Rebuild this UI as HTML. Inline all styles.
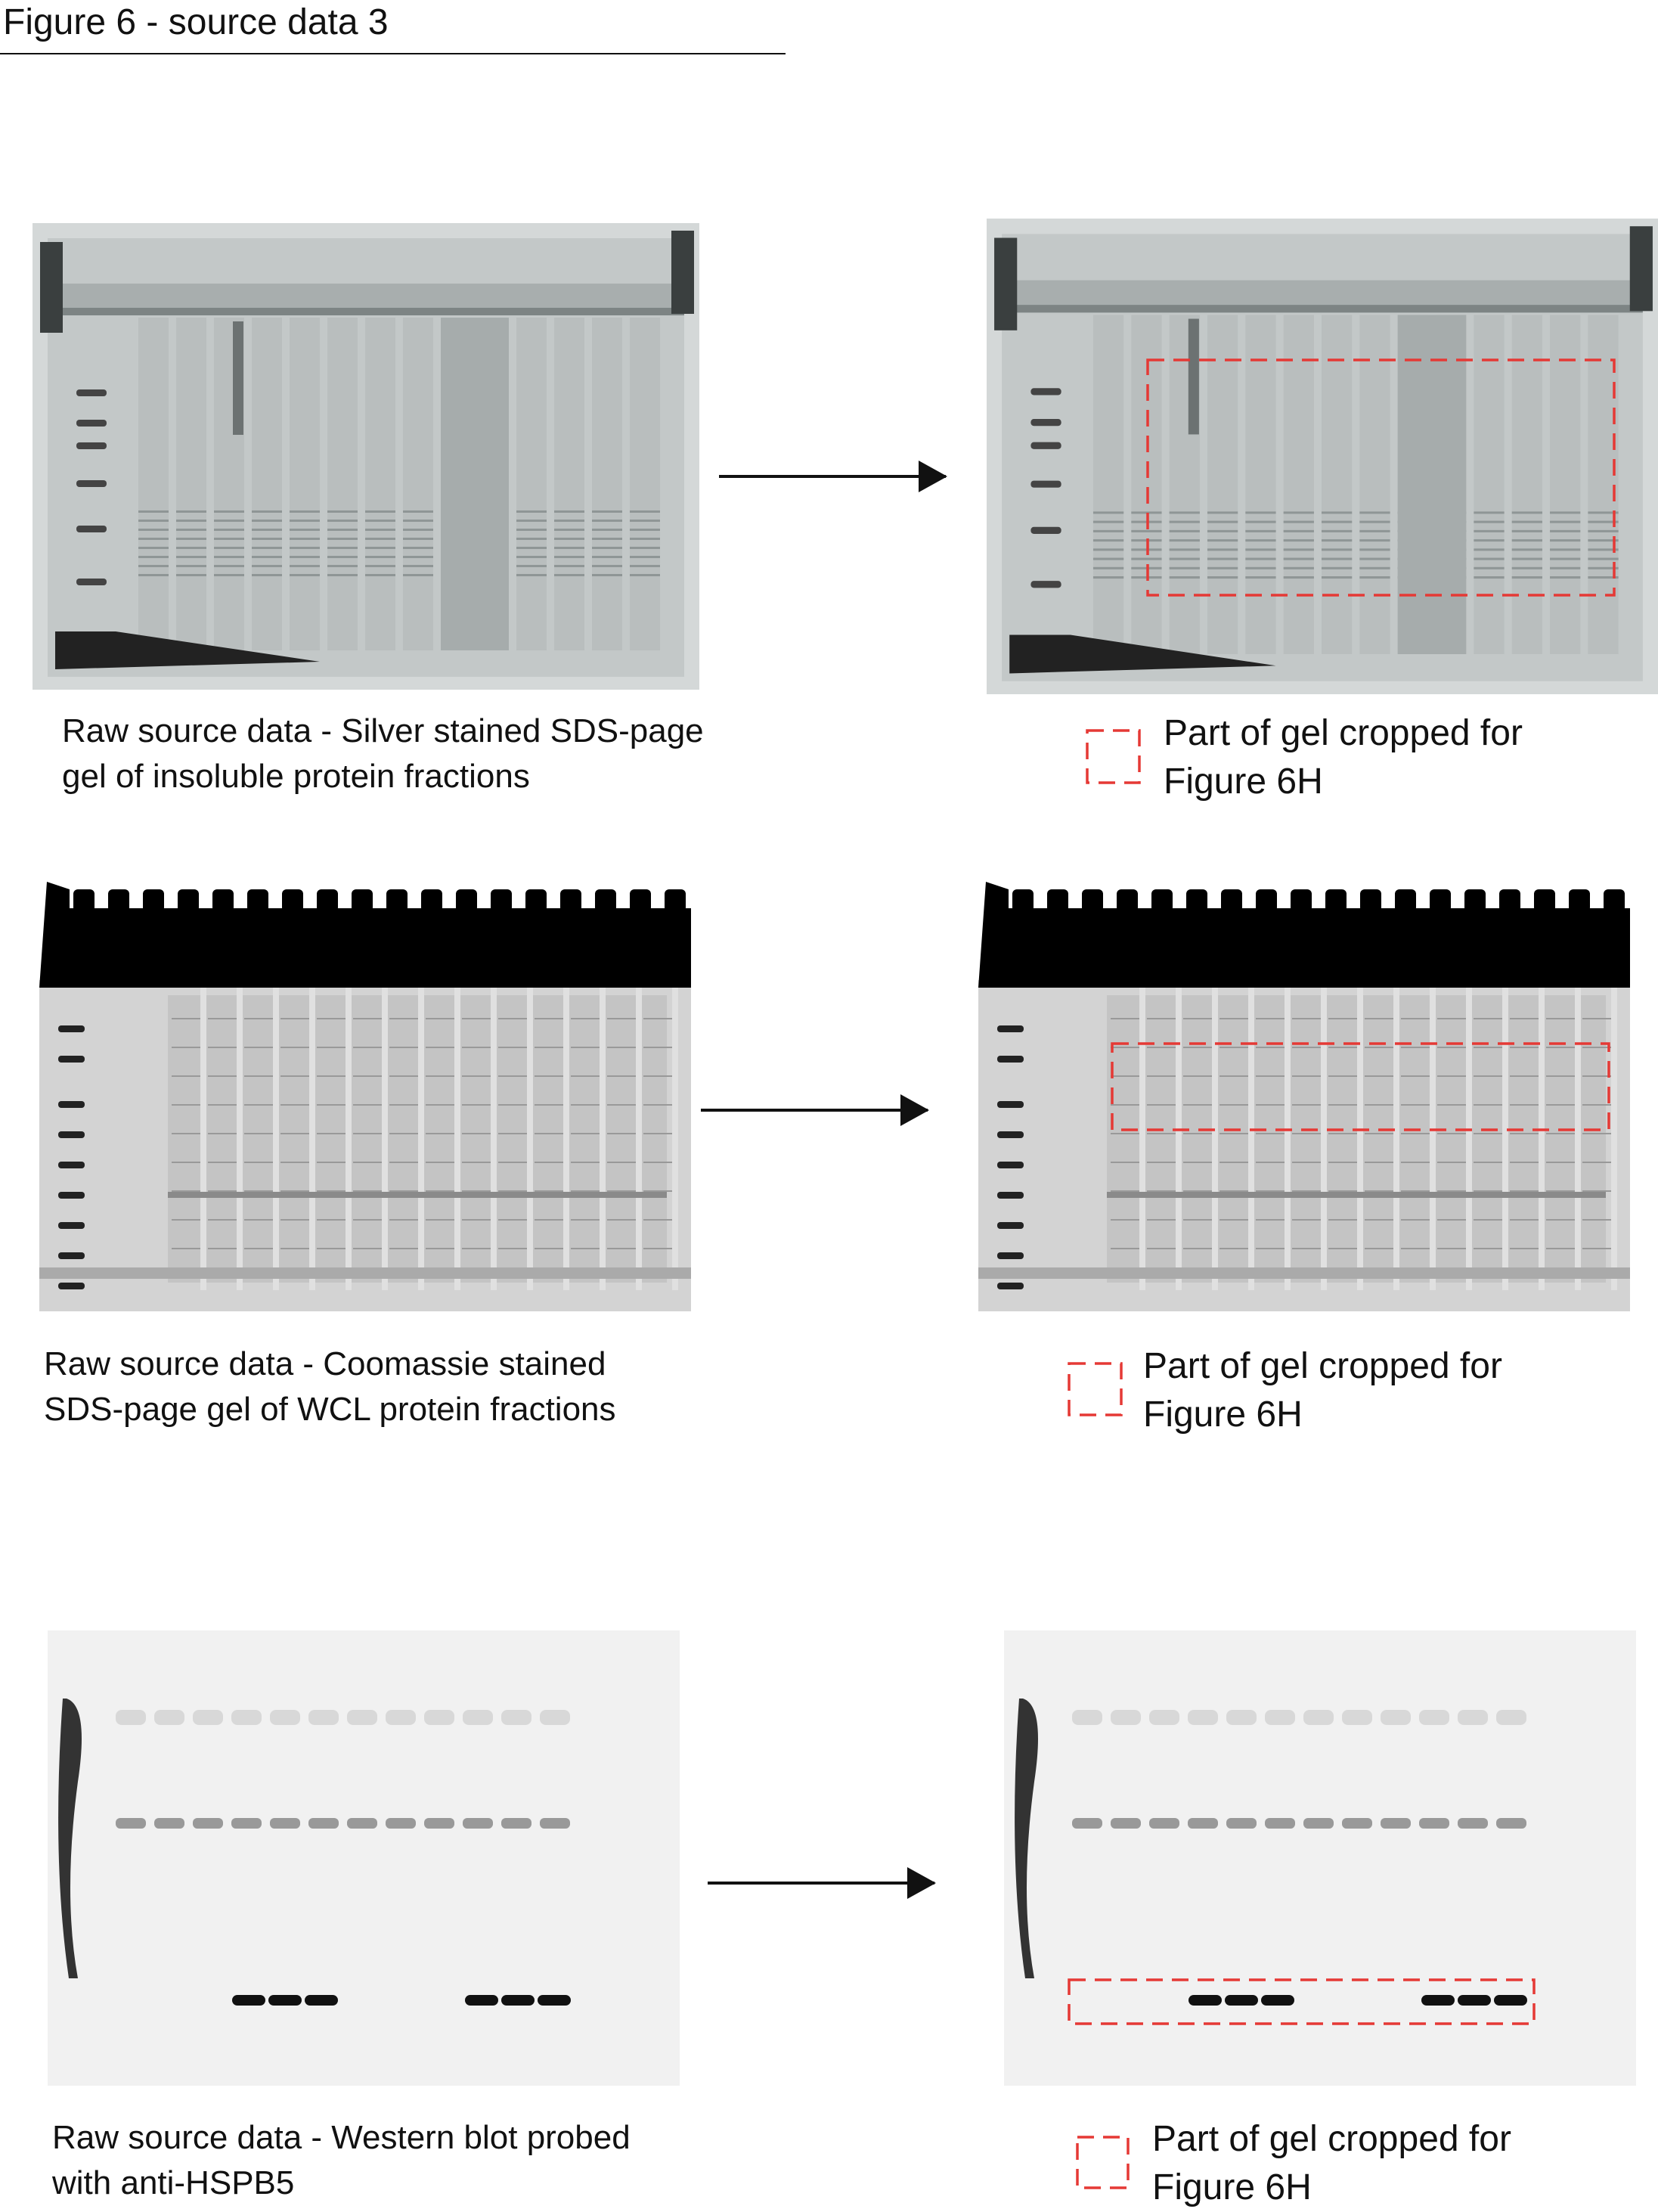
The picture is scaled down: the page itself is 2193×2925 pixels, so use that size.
<!DOCTYPE html>
<html><head><meta charset="utf-8">
<style>
body{margin:0;width:2193px;height:2925px;background:#fff;position:relative;overflow:hidden;font-family:"Liberation Sans",sans-serif;color:#111}
.t{position:absolute;white-space:nowrap}
.cap{font-size:44px;line-height:60px}
.capr{font-size:48px;line-height:64px}
svg{position:absolute}
.arr{position:absolute;height:4px;background:#111}
.arr:after{content:"";position:absolute;right:-2px;top:-19px;border-left:38px solid #111;border-top:21px solid transparent;border-bottom:21px solid transparent}
</style></head><body>
<div class="t" style="left:4px;top:0px;font-size:48px;line-height:60px">Figure 6 - source data 3</div>
<div style="position:absolute;left:0;top:70px;width:1039px;height:2px;background:#111"></div>

<div id="g1a"></div><div id="g1b"></div>
<div class="arr" style="left:951px;top:628px;width:300px"></div>
<div class="t cap" style="left:82px;top:937px">Raw source data - Silver stained SDS-page<br>gel of insoluble protein fractions</div>
<div class="t capr" style="left:1539px;top:938px">Part of gel cropped for<br>Figure 6H</div>

<div class="arr" style="left:927px;top:1466px;width:300px"></div>
<div class="t cap" style="left:58px;top:1774px">Raw source data - Coomassie stained<br>SDS-page gel of WCL protein fractions</div>
<div class="t capr" style="left:1512px;top:1775px">Part of gel cropped for<br>Figure 6H</div>

<div class="arr" style="left:936px;top:2488px;width:300px"></div>
<div class="t cap" style="left:69px;top:2797px">Raw source data - Western blot probed<br>with anti-HSPB5</div>
<div class="t capr" style="left:1524px;top:2797px">Part of gel cropped for<br>Figure 6H</div>

<script>
function gel1(x,y,w,h){
 let s=`<svg style="left:${x}px;top:${y}px" width="${w}" height="${h}" viewBox="0 0 882 617" preserveAspectRatio="none">
 <rect width="882" height="617" fill="#d4d8d8"/><rect x="20" y="20" width="842" height="580" fill="#c3c8c8"/>
 <rect x="20" y="80" width="842" height="40" fill="#a8aeae"/><rect x="20" y="112" width="842" height="10" fill="#7d8484"/>
 <rect x="10" y="25" width="30" height="120" fill="#3a3f3f"/><rect x="845" y="10" width="30" height="110" fill="#3a3f3f"/>`;
 for(let i=0;i<14;i++){let lx=140+i*50;s+=`<rect x="${lx}" y="125" width="40" height="440" fill="#b9bebe"/>`;
  for(let b=0;b<8;b++)s+=`<rect x="${lx}" y="${380+b*12}" width="40" height="3" fill="#8f9696"/>`;}
 s+=`<rect x="540" y="125" width="90" height="440" fill="#a6acac"/><rect x="265" y="130" width="14" height="150" fill="#6c7272"/>`;
 [220,260,290,340,400,470].forEach(t=>s+=`<rect x="58" y="${t}" width="40" height="9" rx="4" fill="#444"/>`);
 s+=`<polygon points="30,540 110,540 380,580 30,590" fill="#222"/></svg>`;return s;}
function gel2(x,y,w,h){
 let s=`<svg style="left:${x}px;top:${y}px" width="${w}" height="${h}" viewBox="0 0 862 568" preserveAspectRatio="none">
 <rect y="130" width="862" height="438" fill="#d3d3d3"/><rect x="170" y="150" width="660" height="380" fill="#c4c4c4"/>`;
 for(let i=0;i<14;i++){let lx=175+i*48;s+=`<rect x="${lx+38}" y="140" width="8" height="400" fill="#e0e0e0"/>`;
  for(let b=0;b<10;b++)s+=`<rect x="${lx}" y="${180+b*38}" width="38" height="2" fill="#999"/>`;}
 s+=`<rect x="170" y="410" width="660" height="8" fill="#8a8a8a"/><rect x="0" y="510" width="862" height="15" fill="#aaa"/>
 <path d="M10,0 L40,10 L40,35 L862,35 L862,140 L0,140 Z" fill="#000"/>`;
 for(let i=0;i<18;i++)s+=`<rect x="${45+i*46}" y="10" width="28" height="30" rx="6" fill="#000"/>`;
 [190,230,290,330,370,410,450,490,530].forEach(t=>s+=`<rect x="25" y="${t}" width="35" height="9" rx="4" fill="#222"/>`);
 return s+`</svg>`;}
function blot(x,y,w,h,bx){
 let s=`<svg style="left:${x}px;top:${y}px" width="${w}" height="${h}" viewBox="0 0 836 602" preserveAspectRatio="none">
 <rect width="836" height="602" fill="#f1f1f1"/><path d="M25,90 Q55,100 40,200 Q20,350 40,460 L28,460 Q5,300 20,90Z" fill="#333"/>`;
 for(let i=0;i<12;i++){let lx=90+i*51;s+=`<rect x="${lx}" y="${bx}" width="40" height="14" rx="6" fill="#999"/><rect x="${lx}" y="105" width="40" height="20" rx="8" fill="#d8d8d8"/>`;}
 [244,292,340,552,600,648].forEach(lx=>s+=`<rect x="${lx}" y="482" width="44" height="14" rx="7" fill="#111"/>`);
 return s+`</svg>`;}
function db(x,y,w,h){return `<svg style="left:${x-3}px;top:${y-3}px" width="${w+6}" height="${h+6}"><rect x="3" y="3" width="${w}" height="${h}" fill="none" stroke="#e53935" stroke-width="3.5" stroke-dasharray="22 12"/></svg>`;}
document.getElementById('g1a').outerHTML=gel1(43,295,882,617);
document.getElementById('g1b').outerHTML=gel1(1305,289,888,629);
document.body.insertAdjacentHTML('beforeend',gel2(52,1166,862,568)+gel2(1294,1166,862,568)+blot(63,2156,836,602,248)+blot(1328,2156,836,602,248)
 +db(1518,476,617,311)+db(1438,966,69,69)+db(1471,1380,657,114)+db(1414,1803,69,68)+db(1414,2618,615,58)+db(1425,2826,67,67));
</script>
</body></html>
